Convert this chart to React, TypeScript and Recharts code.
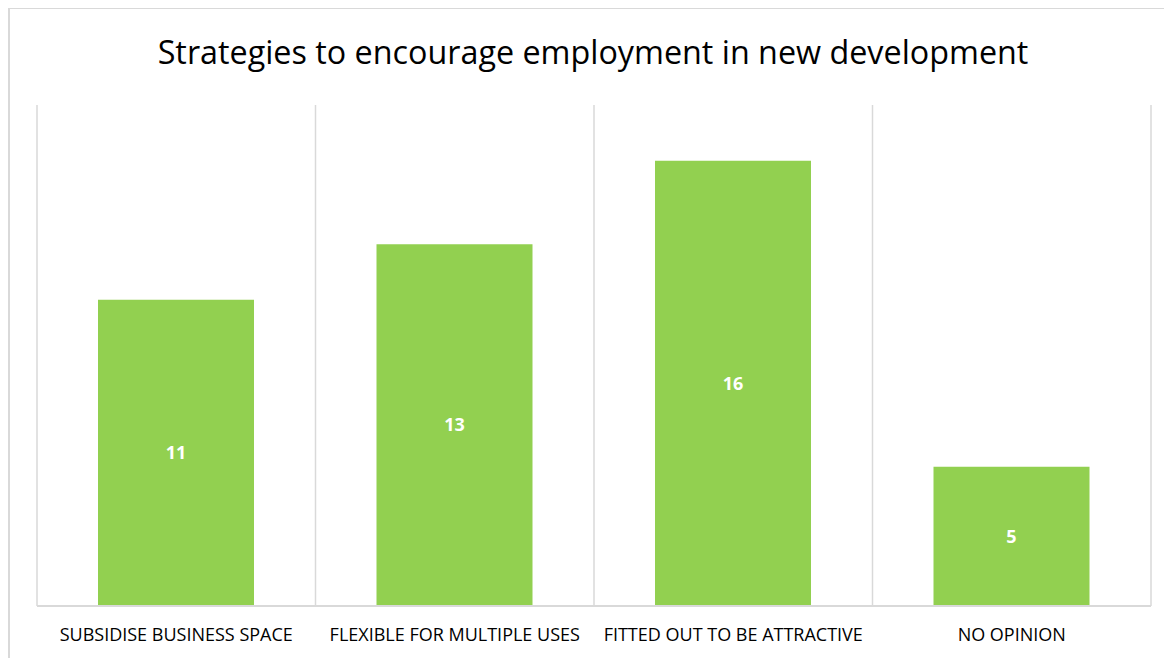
import React from "react";
import { ComposedChart, Bar, XAxis, YAxis, CartesianGrid, LabelList } from "recharts";

const categories = [
  "SUBSIDISE BUSINESS SPACE",
  "FLEXIBLE FOR MULTIPLE USES",
  "FITTED OUT TO BE ATTRACTIVE",
  "NO OPINION",
];
const values = [11, 13, 16, 5];

const data = categories.map((c, i) => ({ name: c, value: values[i] }));

const boundaryGenerator = (props: any) => {
  const { offset } = props;
  const n = categories.length;
  const step = offset.width / n;
  return Array.from({ length: n + 1 }, (_, i) => offset.left + i * step);
};

export default function App() {
  return (
    <div
      style={{
        position: "relative",
        width: 1164,
        height: 651,
        marginTop: -1,
        borderLeft: "2px solid #d9d9d9",
        borderTop: "2px solid #d9d9d9",
        boxSizing: "border-box",
        background: "#fff",
        overflow: "hidden",
      }}
    >
      <div
        style={{
          position: "absolute",
          left: 0,
          width: 1166,
          top: 22,
          textAlign: "center",
          fontFamily: "'Open Sans', sans-serif",
          fontSize: 32.3,
          color: "#000",
          lineHeight: "40px",
        }}
      >
        Strategies to encourage employment in new development
      </div>
      <ComposedChart
        width={1162}
        height={649}
        data={data}
        margin={{ top: 96, right: 21, bottom: 22, left: 27 }}
        barSize={156}
      >
        <CartesianGrid
          horizontal={false}
          vertical={true}
          verticalCoordinatesGenerator={boundaryGenerator}
          stroke="#d9d9d9"
          strokeWidth={1.5}
        />
        <XAxis
          dataKey="name"
          type="category"
          axisLine={{ stroke: "#d9d9d9", strokeWidth: 2 }}
          tickLine={false}
          tick={{ fill: "#000", fontSize: 18, fontFamily: "'Open Sans', sans-serif" }}
          tickMargin={16}
          interval={0}
        />
        <YAxis domain={[0, 18]} hide />
        <Bar dataKey="value" fill="#92d050" isAnimationActive={false}>
          <LabelList
            dataKey="value"
            position="center"
            fill="#fff"
            fontWeight="bold"
            fontSize={18}
            fontFamily="'Open Sans', sans-serif"
          />
        </Bar>
      </ComposedChart>
    </div>
  );
}
